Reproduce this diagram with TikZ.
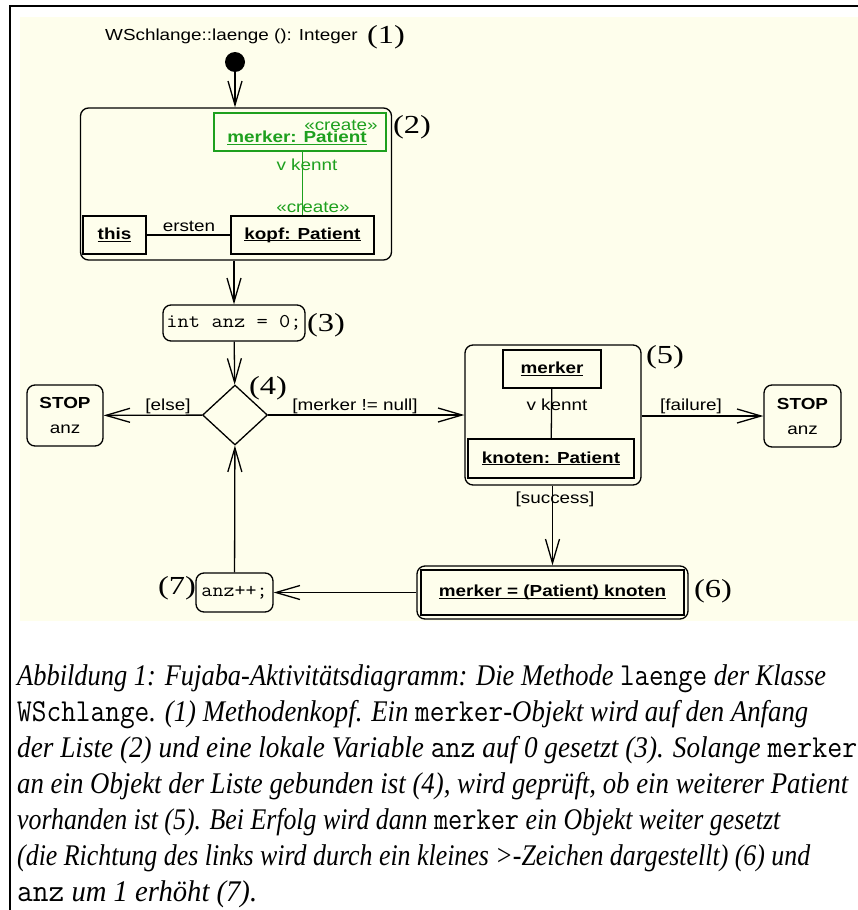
\documentclass[tikz,border=0pt]{standalone}
\usepackage{fontspec}
\usepackage{graphicx}
\usetikzlibrary{arrows.meta,shapes.geometric}
\setmainfont{Liberation Serif}
\newfontfamily\dsans[FakeStretch=1.18]{Liberation Sans}
\newfontfamily\dnum[FakeStretch=1.25]{Liberation Serif}
\definecolor{bgyellow}{RGB}{254,254,236}
\definecolor{umlgreen}{RGB}{30,160,30}
% underline sitting just below the baseline
\newcommand\ulbox[1]{\setbox0\hbox{#1}\rlap{\rule[-2.2pt]{\wd0}{1.2pt}}\box0}
% text stretched to a given width
\newcommand\fitw[2]{\resizebox{#1}{\height}{#2}}
\newcommand\cmono[1]{{\ttfamily\upshape\fontsize{32}{34}\selectfont #1}}
\begin{document}
\begin{tikzpicture}[x=1pt,y=-1pt,
  >={Straight Barb[length=24pt,width=14pt]},
  flow/.style={->,line width=1.3pt},
  lbl/.style={font=\dsans\fontsize{16}{18}\selectfont,inner sep=0pt},
  glbl/.style={lbl,text=umlgreen},
  num/.style={font=\dnum\fontsize{26}{28}\selectfont,inner sep=0pt},
  act/.style={draw,line width=1.3pt,rounded corners=8pt,inner sep=0pt},
  obj/.style={draw,line width=1.3pt,inner sep=0pt,
    font=\dsans\bfseries\fontsize{16}{18}\selectfont},
  code/.style={font=\ttfamily\fontsize{19.5}{21}\selectfont,inner sep=0pt},
  stopbox/.style={act,align=center,font=\dsans\fontsize{16}{25}\selectfont},
  capl/.style={anchor=base west,inner sep=0pt,font=\fontsize{30}{32}\selectfont\itshape}]
\useasboundingbox (0,0) rectangle (858,910);
\fill[white] (0,0) rectangle (858,910);
\fill[bgyellow] (20,17) rectangle (858,621);
\draw[line width=2pt] (10,910) -- (10,6) -- (858,6);

% (1) method head and start state
\node[lbl,anchor=west] (title) at (105,36) {WSchlange::laenge (): Integer};
\node[num] (n1) at (386,37) {(1)};
\node[circle,fill,minimum size=20pt,inner sep=0pt] (start) at (235,62) {};

% (2) story pattern
\node[act,minimum width=311pt,minimum height=152pt] (act2) at (236,184) {};
\node[num] (n2) at (412,127) {(2)};
\node[draw=umlgreen,line width=1.3pt,minimum width=172pt,minimum height=38pt,inner sep=0pt] (mkbox) at (300,132) {};
\node[lbl,font=\dsans\bfseries\fontsize{16}{18}\selectfont,text=umlgreen] (mktxt) at (297,138) {\ulbox{merker: Patient}};
\node[glbl] (cr1) at (341,125) {«create»};
\node[obj,minimum width=63pt,minimum height=38pt] (this) at (114.5,235) {\ulbox{this}};
\node[obj,minimum width=143pt,minimum height=38pt] (kopf) at (302.5,235) {\ulbox{kopf: Patient}};
\draw[line width=1.3pt] (this) -- (kopf);
\node[lbl] (ersten) at (189,226) {ersten};
\draw[umlgreen,line width=1.3pt] (kopf.north) -- (kopf.north |- mkbox.south);
\node[glbl] (kennt1) at (307,165) {v kennt};
\node[glbl] (cr2) at (313,207) {«create»};

% (3) local variable
\node[act,minimum width=142pt,minimum height=36pt,code] (init) at (234,323) {\fitw{135pt}{int anz = 0;}};
\node[num] (n3) at (326,325) {(3)};

% (4) decision
\node[draw,diamond,line width=1.3pt,minimum width=65pt,minimum height=60pt,inner sep=0pt] (dec) at (235,415) {};
\node[num] (n4) at (268,388) {(4)};
\node[stopbox,minimum width=76pt,minimum height=61pt] (stopL) at (65,415.5) {\textbf{STOP}\\anz};
\node[lbl] (else) at (168,406) {[else]};
\node[lbl] (notnull) at (355,406) {[merker != null]};

% (5) look for the next element
\node[act,minimum width=176pt,minimum height=140pt] (act5) at (553,415) {};
\node[num] (n5) at (665,357) {(5)};
\node[obj,minimum width=98pt,minimum height=38pt] (merker) at (552,369) {\ulbox{merker}};
\node[obj,minimum width=166pt,minimum height=39pt] (knoten) at (551,458.5) {\ulbox{knoten: Patient}};
\draw[line width=1.3pt] (merker) -- (knoten);
\node[lbl] (kennt2) at (557,405) {v kennt};
\node[stopbox,minimum width=77pt,minimum height=62pt] (stopR) at (802.5,416) {\textbf{STOP}\\anz};
\node[lbl] (failure) at (691,406) {[failure]};
\node[lbl] (success) at (555,499) {[success]};

% (6) assignment
\node[act,minimum width=271pt,minimum height=53pt] (act6) at (552.5,592.5) {};
\node[draw,line width=1.3pt,minimum width=263pt,minimum height=45pt,inner sep=0pt,
  font=\dsans\bfseries\fontsize{16}{18}\selectfont] (assign) at (552.5,592.5) {\ulbox{merker = (Patient) knoten}};
\node[num] (n6) at (713,591) {(6)};

% (7) increment
\node[act,minimum width=77pt,minimum height=39pt,code] (inc) at (234.5,592.5) {\fitw{66pt}{anz++;}};
\node[num] (n7) at (177,588) {(7)};

% control flow
\draw[flow] (start) -- (start |- act2.north);
\draw[flow] (act2.south -| init.north) -- (init.north);
\draw[flow] (init) -- (dec);
\draw[flow] (dec) -- (stopL);
\draw[flow] (dec.east) -- (act5.west |- dec.east);
\draw[flow] (act5.east |- stopR.west) -- (stopR.west);
\draw[flow] (act5.south -| act6.north) -- (act6.north);
\draw[flow] (act6.west) -- (inc.east);
\draw[flow] (inc) -- (dec);

% caption
\node[capl] (c1) at (17,685) {\fitw{809pt}{Abbildung 1: Fujaba-Aktivitätsdiagramm: Die Methode \cmono{laenge} der Klasse}};
\node[capl] (c2) at (17,721) {\fitw{791pt}{\cmono{WSchlange}. (1) Methodenkopf. Ein \cmono{merker}-Objekt wird auf den Anfang}};
\node[capl] (c3) at (17,757) {\fitw{840pt}{der Liste (2) und eine lokale Variable \cmono{anz} auf 0 gesetzt (3). Solange \cmono{merker}}};
\node[capl] (c4) at (17,793) {\fitw{831pt}{an ein Objekt der Liste gebunden ist (4), wird geprüft, ob ein weiterer Patient}};
\node[capl] (c5) at (17,829) {\fitw{763pt}{vorhanden ist (5). Bei Erfolg wird dann \cmono{merker} ein Objekt weiter gesetzt}};
\node[capl] (c6) at (17,865) {\fitw{793pt}{(die Richtung des links wird durch ein kleines >-Zeichen dargestellt) (6) und}};
\node[capl] (c7) at (17,901) {\fitw{240pt}{\cmono{anz} um 1 erhöht (7).}};
\end{tikzpicture}
\end{document}
